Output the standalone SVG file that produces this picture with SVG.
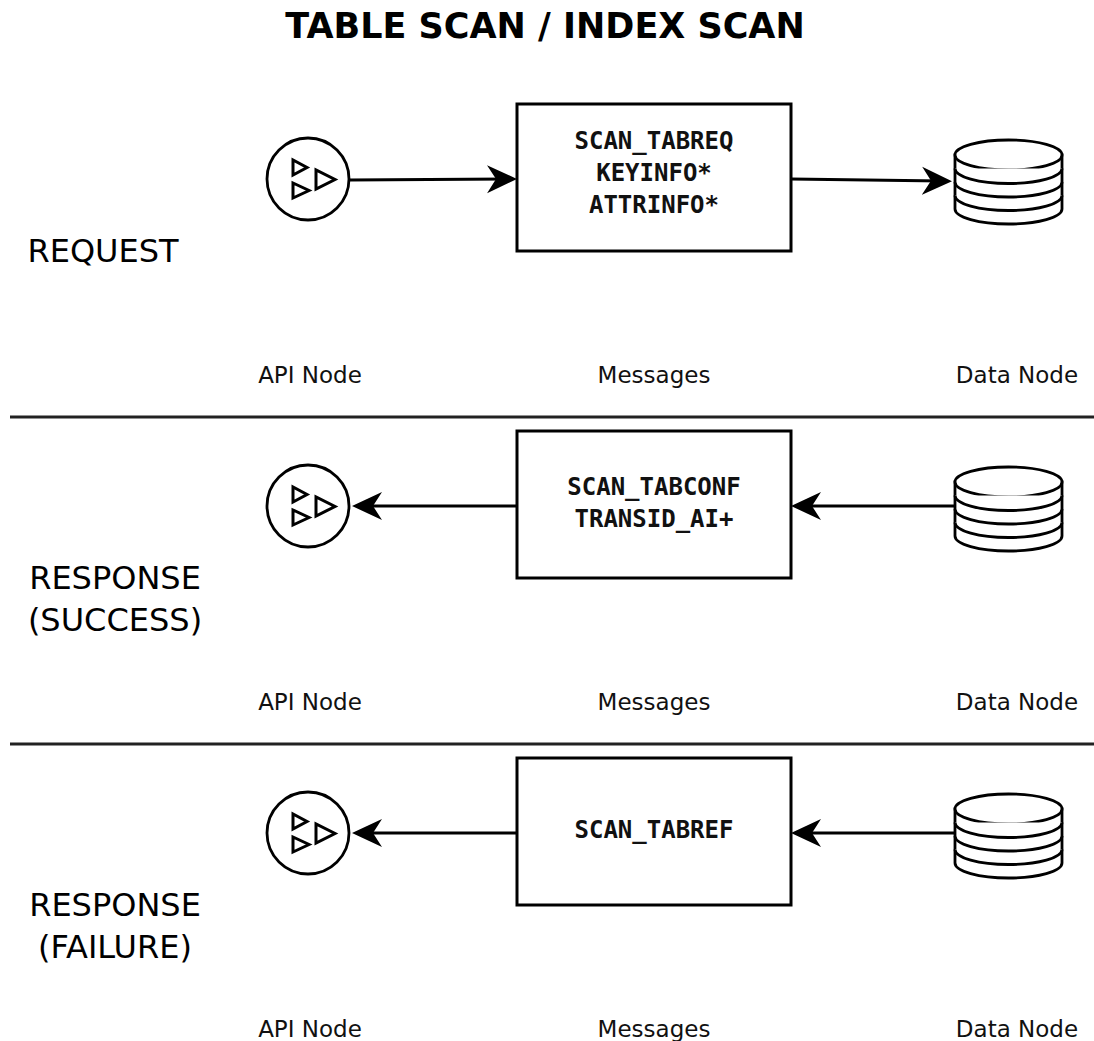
<svg xmlns="http://www.w3.org/2000/svg" xmlns:xlink="http://www.w3.org/1999/xlink" width="1094" height="1041" viewBox="0 0 1094 1041">
<style>
.title{font-family:"DejaVu Sans",sans-serif;font-weight:bold;font-size:35px;fill:#000}
.side{font-family:"DejaVu Sans",sans-serif;font-size:32px;fill:#000}
.lbl{font-family:"DejaVu Sans",sans-serif;font-size:23px;fill:#111}
.msg{font-family:"DejaVu Sans Mono",monospace;font-weight:bold;font-size:24px;fill:#111}
.box{fill:#fff;stroke:#000;stroke-width:3}
.sep{stroke:#222;stroke-width:3}
.conn{fill:none;stroke:#000;stroke-width:3}
.ico{fill:#fff;stroke:#000;stroke-width:2.8}
.tri{fill:none;stroke:#000;stroke-width:3;stroke-linejoin:miter}
</style>
<defs>
<marker id="arr" markerUnits="userSpaceOnUse" markerWidth="30" markerHeight="30" viewBox="0 0 30 30" refX="20" refY="15" orient="auto">
<path d="M0,1 L30,15 L0,29 L9,15 Z" fill="#000"/>
</marker>
<g id="api">
<circle cx="0" cy="0" r="41" class="ico"/>
<path class="tri" d="M-15,-19 L-15,-4 L-1,-11.5 Z"/>
<path class="tri" d="M-15,4 L-15,19 L1,11.5 Z"/>
<path class="tri" d="M8,-9 L8,10 L27,0.5 Z"/>
</g>
<g id="db">
<path class="ico" d="M0,15 L0,69 A53.5,15 0 0 0 107,69 L107,15 Z"/>
<ellipse class="ico" cx="53.5" cy="15" rx="53.5" ry="15"/>
<path class="ico" fill="none" d="M0,28.5 A53.5,15 0 0 0 107,28.5 M0,42 A53.5,15 0 0 0 107,42 M0,55.5 A53.5,15 0 0 0 107,55.5"/>
</g>
</defs>
<rect width="1094" height="1041" fill="#fff"/>
<text class="title" x="545" y="38" text-anchor="middle">TABLE SCAN / INDEX SCAN</text>

<g id="separators">
<line class="sep" x1="10" y1="417" x2="1094" y2="417"/>
<line class="sep" x1="10" y1="744" x2="1094" y2="744"/>
</g>

<g id="section-labels">
<text class="side" x="103" y="262" text-anchor="middle">REQUEST</text>
<text class="side" x="115" y="589" text-anchor="middle">RESPONSE</text>
<text class="side" x="115" y="631" text-anchor="middle">(SUCCESS)</text>
<text class="side" x="115" y="916" text-anchor="middle">RESPONSE</text>
<text class="side" x="115" y="958" text-anchor="middle">(FAILURE)</text>
</g>

<g id="connectors">
<path class="conn" d="M350,180 L507,179" marker-end="url(#arr)"/>
<path class="conn" d="M791,179 L942,181" marker-end="url(#arr)"/>
<path class="conn" d="M955,506 L801,506" marker-end="url(#arr)"/>
<path class="conn" d="M517,506 L362,506" marker-end="url(#arr)"/>
<path class="conn" d="M955,833 L801,833" marker-end="url(#arr)"/>
<path class="conn" d="M517,833 L362,833" marker-end="url(#arr)"/>
</g>

<g id="api-node-1"><use xlink:href="#api" x="308" y="179"/><text class="lbl" x="310" y="383" text-anchor="middle">API Node</text></g>
<g id="messages-1">
<rect class="box" x="517" y="104" width="274" height="147"/>
<text class="msg" x="654" y="149" text-anchor="middle">SCAN_TABREQ</text>
<text class="msg" x="654" y="181" text-anchor="middle">KEYINFO*</text>
<text class="msg" x="654" y="213" text-anchor="middle">ATTRINFO*</text>
<text class="lbl" x="654" y="383" text-anchor="middle">Messages</text>
</g>
<g id="data-node-1"><use xlink:href="#db" x="955" y="140"/><text class="lbl" x="1017" y="383" text-anchor="middle">Data Node</text></g>

<g id="api-node-2"><use xlink:href="#api" x="308" y="506"/><text class="lbl" x="310" y="710" text-anchor="middle">API Node</text></g>
<g id="messages-2">
<rect class="box" x="517" y="431" width="274" height="147"/>
<text class="msg" x="654" y="495" text-anchor="middle">SCAN_TABCONF</text>
<text class="msg" x="654" y="527" text-anchor="middle">TRANSID_AI+</text>
<text class="lbl" x="654" y="710" text-anchor="middle">Messages</text>
</g>
<g id="data-node-2"><use xlink:href="#db" x="955" y="467"/><text class="lbl" x="1017" y="710" text-anchor="middle">Data Node</text></g>

<g id="api-node-3"><use xlink:href="#api" x="308" y="833"/><text class="lbl" x="310" y="1037" text-anchor="middle">API Node</text></g>
<g id="messages-3">
<rect class="box" x="517" y="758" width="274" height="147"/>
<text class="msg" x="654" y="838" text-anchor="middle">SCAN_TABREF</text>
<text class="lbl" x="654" y="1037" text-anchor="middle">Messages</text>
</g>
<g id="data-node-3"><use xlink:href="#db" x="955" y="794"/><text class="lbl" x="1017" y="1037" text-anchor="middle">Data Node</text></g>
</svg>
